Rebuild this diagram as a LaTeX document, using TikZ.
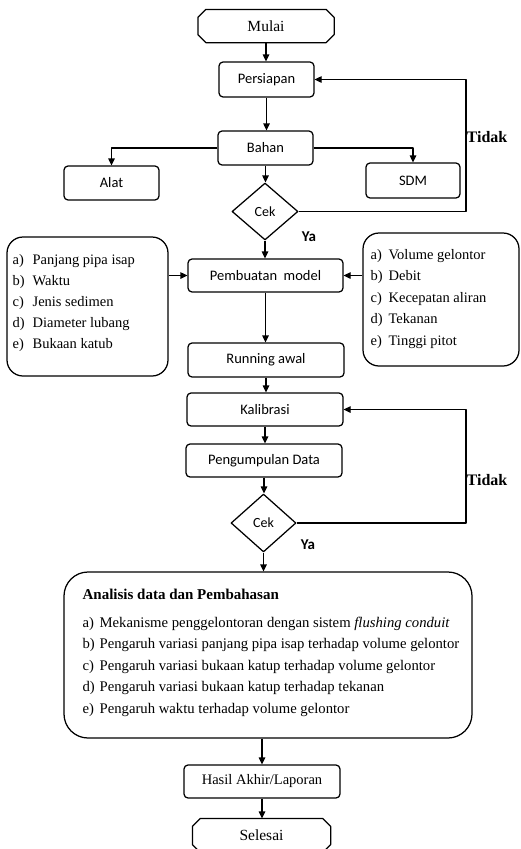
\documentclass[tikz,border=0pt]{standalone}
\usepackage{fontspec}
\setmainfont{Liberation Serif}
\newfontfamily\calibri{Carlito}
\usetikzlibrary{arrows.meta,shapes.geometric}
\tikzset{
  box/.style={draw, fill=white, rounded corners=4pt, inner sep=0pt,
    font=\calibri\fontsize{14.5}{17}\selectfont},
  serifbox/.style={draw, fill=white, rounded corners=4pt, inner sep=0pt,
    font=\fontsize{14.5}{17}\selectfont},
  bigbox/.style={draw, fill=white, inner sep=0pt},
  decision/.style={draw, fill=white, diamond, inner sep=0pt,
    font=\calibri\fontsize{14}{17}\selectfont},
  termtext/.style={inner sep=0pt, font=\fontsize{15.5}{18}\selectfont},
  listtext/.style={inner sep=0pt, anchor=base west, font=\fontsize{14.5}{21}\selectfont},
  yalabel/.style={inner sep=0pt, font=\calibri\bfseries\fontsize{15}{18}\selectfont},
  tidaklabel/.style={inner sep=0pt, font=\bfseries\fontsize{16}{18}\selectfont},
  arr/.style={-{Triangle[length=7pt,width=6.5pt]}},
}
\newcommand{\chamfbox}[2]{%
  \draw ([xshift=#2]#1.north west) -- ([xshift=-#2]#1.north east)
    -- ([yshift=-#2]#1.north east) -- ([yshift=#2]#1.south east)
    -- ([xshift=-#2]#1.south east) -- ([xshift=#2]#1.south west)
    -- ([yshift=#2]#1.south west) -- ([yshift=-#2]#1.north west) -- cycle;}
\begin{document}
\begin{tikzpicture}[x=1pt, y=-1pt, line width=1.25pt, line join=round]
\useasboundingbox[fill=white] (0,0) rectangle (520,849);

% terminals
\node[termtext, minimum width=135pt, minimum height=32pt] (mulai) at (266,26) {Mulai};
\chamfbox{mulai}{8pt}
\node[termtext, minimum width=137pt, minimum height=33pt] (selesai) at (261.5,835.5) {Selesai};
\chamfbox{selesai}{8pt}

% process boxes
\node[box, minimum width=95pt, minimum height=35pt] (persiapan) at (266.5,79.5) {Persiapan};
\node[box, minimum width=95pt, minimum height=34pt] (bahan) at (265.5,148) {Bahan};
\node[box, minimum width=95pt, minimum height=34pt] (alat) at (111.5,183) {Alat};
\node[box, minimum width=94pt, minimum height=35pt] (sdm) at (413,180.5) {SDM};
\node[decision, minimum width=66pt, minimum height=57pt] (cek1) at (265,211.5) {Cek};
\node[box, minimum width=155pt, minimum height=33pt] (pembuatan) at (265.5,275.5) {Pembuatan\ \ model};
\node[box, minimum width=156pt, minimum height=34pt] (running) at (266,360) {Running awal};
\node[box, minimum width=156pt, minimum height=33pt] (kalibrasi) at (265,409.5) {Kalibrasi};
\node[box, minimum width=156pt, minimum height=33pt] (pengumpulan) at (264,460.5) {Pengumpulan Data};
\node[decision, minimum width=65pt, minimum height=58pt] (cek2) at (263.5,523) {Cek};
\node[serifbox, minimum width=156pt, minimum height=33pt] (hasil) at (262,781.5) {Hasil Akhir/Laporan};

% variable boxes
\node[bigbox, rounded corners=16pt, minimum width=161pt, minimum height=139pt] (leftbox) at (87.5,306.5) {};
\node[listtext] (leftlist) at (12,264) {%
  \begin{tabular}[t]{@{}p{20pt}@{}l@{}}
  a) & Panjang pipa isap\\
  b) & Waktu\\
  c) & Jenis sedimen\\
  d) & Diameter lubang\\
  e) & Bukaan katub
  \end{tabular}};
\node[bigbox, rounded corners=16pt, minimum width=156pt, minimum height=133pt] (rightbox) at (441,299.5) {};
\node[listtext, font=\fontsize{14.5}{21.5}\selectfont] (rightlist) at (370,259) {%
  \begin{tabular}[t]{@{}p{18pt}@{}l@{}}
  a) & Volume gelontor\\
  b) & Debit\\
  c) & Kecepatan aliran\\
  d) & Tekanan\\
  e) & Tinggi pitot
  \end{tabular}};

% analysis box
\node[bigbox, rounded corners=24pt, minimum width=408pt, minimum height=166pt] (analisis) at (268,655) {};
\node[listtext, font=\bfseries\fontsize{15}{18}\selectfont] (antitle) at (82,599) {Analisis data dan Pembahasan};
\node[listtext, font=\fontsize{14.7}{21.5}\selectfont] (anlist) at (82,627) {%
  \begin{tabular}[t]{@{}p{17pt}@{}l@{}}
  a) & Mekanisme penggelontoran dengan sistem \textit{flushing conduit}\\
  b) & Pengaruh variasi panjang pipa isap terhadap volume gelontor\\
  c) & Pengaruh variasi bukaan katup terhadap volume gelontor\\
  d) & Pengaruh variasi bukaan katup terhadap tekanan\\
  e) & Pengaruh waktu terhadap volume gelontor
  \end{tabular}};

% labels
\node[yalabel] (ya1) at (309,237) {Ya};
\node[yalabel] (ya2) at (308,545) {Ya};
\node[tidaklabel] (tidak1) at (487,137) {Tidak};
\node[tidaklabel] (tidak2) at (487,480) {Tidak};

\coordinate (loopx) at (466,0);

% connectors
\draw[arr] (mulai.south) -- (mulai.south |- persiapan.north);
\draw[arr] (persiapan.south) -- (persiapan.south |- bahan.north);
\draw[arr] (bahan.west) -| (alat.north);
\draw[arr] (bahan.east) -| (sdm.north);
\draw[arr] (bahan.south) -- (bahan.south |- cek1.north);
\draw[arr] (cek1.east) -- (cek1.east -| loopx) |- (persiapan.east);
\draw[arr] (cek1.south) -- (cek1.south |- pembuatan.north);
\draw[arr] (leftbox.east |- pembuatan.west) -- (pembuatan.west);
\draw[arr] (rightbox.west |- pembuatan.east) -- (pembuatan.east);
\draw[arr] (pembuatan.south) -- (pembuatan.south |- running.north);
\draw[arr] (running.south) -- (running.south |- kalibrasi.north);
\draw[arr] (kalibrasi.south) -- (kalibrasi.south |- pengumpulan.north);
\draw[arr] (pengumpulan.south) -- (pengumpulan.south |- cek2.north);
\draw[arr] (cek2.east) -- (cek2.east -| loopx) |- (kalibrasi.east);
\draw[arr] (cek2.south) -- (cek2.south |- analisis.north);
\draw[arr] (analisis.south -| hasil.north) -- (hasil.north);
\draw[arr] (hasil.south) -- (hasil.south |- selesai.north);
\end{tikzpicture}
\end{document}
